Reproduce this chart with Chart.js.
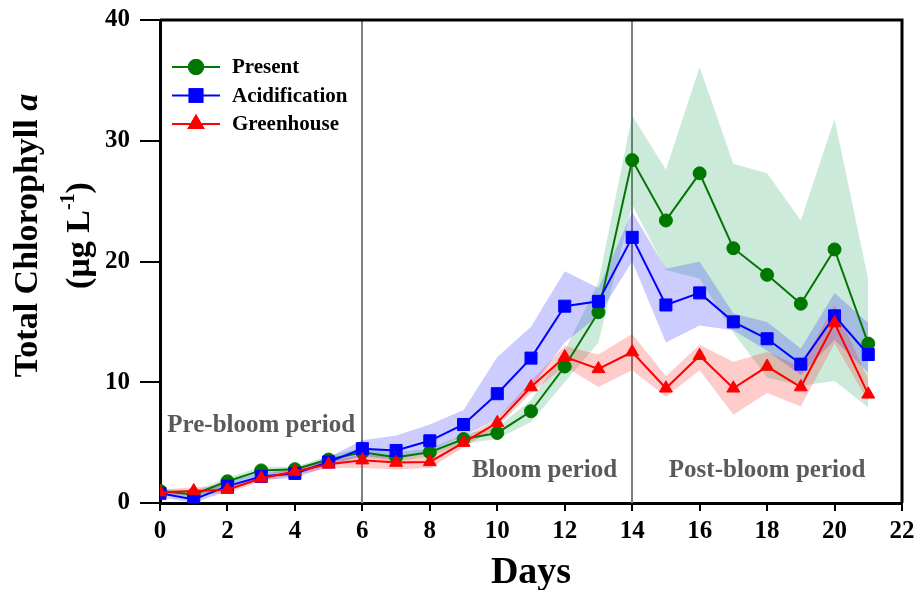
<!DOCTYPE html>
<html><head><meta charset="utf-8">
<script src="https://cdn.jsdelivr.net/npm/chart.js@4"></script>
<style>html,body{margin:0;padding:0;background:#fff;overflow:hidden}</style>
</head><body>
<canvas id="c" width="915" height="590"></canvas>
<script>
// ---------- DATA ----------
const days = [0,1,2,3,4,5,6,7,8,9,10,11,12,13,14,15,16,17,18,19,20,21];
const seriesLabels = ['Present','Acidification','Greenhouse'];

const presentMean  = [1.0,0.7,1.8,2.7,2.8,3.6,4.2,3.8,4.2,5.3,5.8,7.6,11.3,15.8,28.4,23.4,27.3,21.1,18.9,16.5,21.0,13.2];
const presentUpper = [1.2,1.0,2.1,3.0,3.0,3.9,4.6,4.2,4.5,5.7,6.3,8.5,12.6,18.3,32.1,27.6,36.1,28.1,27.3,23.4,31.8,18.5];
const presentLower = [0.8,0.4,1.5,2.4,2.6,3.3,3.8,3.4,3.9,4.9,5.3,6.7,10.0,13.3,24.7,19.3,18.6,14.1,10.4,9.7,10.1,7.9];

const acidMean  = [0.8,0.3,1.4,2.2,2.45,3.4,4.5,4.35,5.15,6.5,9.05,12.0,16.3,16.7,22.0,16.4,17.4,15.0,13.6,11.5,15.5,12.3];
const acidUpper = [1.1,0.7,1.8,2.5,2.8,3.8,5.2,5.6,6.5,7.7,12.1,14.6,19.2,17.8,24.1,19.4,20.0,15.7,15.0,12.8,17.4,14.9];
const acidLower = [0.5,0.0,1.0,1.9,2.1,3.0,3.9,3.6,4.3,5.5,7.0,9.5,13.3,15.5,20.0,13.3,14.7,14.3,12.6,10.6,13.5,10.8];

const greenMean  = [0.9,1.0,1.1,2.05,2.6,3.2,3.55,3.35,3.4,5.0,6.65,9.6,12.1,11.1,12.5,9.5,12.2,9.5,11.3,9.6,14.9,9.0];
const greenUpper = [1.1,1.3,1.4,2.3,2.9,3.5,4.0,3.9,4.0,5.4,7.0,10.1,13.0,12.3,14.0,10.5,13.1,11.7,12.5,11.3,16.4,10.2];
const greenLower = [0.7,0.7,0.8,1.8,2.3,2.9,2.9,2.8,2.9,4.6,6.3,9.1,11.3,9.6,11.0,8.8,11.0,7.3,9.1,8.0,13.2,8.4];

const xTicks = [0,2,4,6,8,10,12,14,16,18,20,22];
const yTicks = [0,10,20,30,40];
const periodBoundaries = [6,14];
const periodLabels = ['Pre-bloom period','Bloom period','Post-bloom period'];
const periodAnchors = [[3,6.4],[11.4,2.7],[18.0,2.7]]; // [day, value]

// ---------- STYLE ----------
const FONT = 'Liberation Serif, "Times New Roman", serif';
const cols = {
  present: {line:'#007800', band:'rgba(0,150,70,0.2)'},
  acid:    {line:'#0000ff', band:'rgba(0,0,255,0.2)'},
  green:   {line:'#ff0000', band:'rgba(255,0,0,0.2)'}
};
const pts = arr => days.map((d,i)=>({x:d,y:arr[i]}));

function band(lo, hi, color, ord){
  return [
    {data:pts(lo), borderWidth:0, borderColor:'rgba(0,0,0,0)', pointRadius:0, fill:false, order:ord, tension:0},
    {data:pts(hi), borderWidth:0, borderColor:'rgba(0,0,0,0)', pointRadius:0, fill:'-1', backgroundColor:color, order:ord, tension:0}
  ];
}
function series(label, arr, c, style, r, ord){
  return {label, data:pts(arr), borderColor:c, backgroundColor:c, pointBorderColor:c, pointBackgroundColor:c,
    borderWidth:2, pointStyle:style, pointRadius:r, pointBorderWidth:1, fill:false, tension:0, order:ord, isSeries:true};
}

const datasets = [
  ...band(presentLower, presentUpper, cols.present.band, 12),
  ...band(acidLower, acidUpper, cols.acid.band, 11),
  ...band(greenLower, greenUpper, cols.green.band, 10),
  series(seriesLabels[0], presentMean, cols.present.line, 'circle', 6.5, 3),
  series(seriesLabels[1], acidMean, cols.acid.line, 'rect', 8.5, 2),
  series(seriesLabels[2], greenMean, cols.green.line, 'triangle', 7.5, 1)
];

const periodPlugin = {
  id:'periods',
  beforeDatasetsDraw(chart){
    const {ctx, chartArea:a, scales:{x}} = chart;
    ctx.save();
    ctx.strokeStyle = '#808080'; ctx.lineWidth = 2;
    periodBoundaries.forEach(d=>{
      const px = Math.round(x.getPixelForValue(d));
      ctx.beginPath(); ctx.moveTo(px, a.top); ctx.lineTo(px, a.bottom); ctx.stroke();
    });
    ctx.restore();
  },
  afterDatasetsDraw(chart){
    const {ctx, scales:{x,y}} = chart;
    ctx.save();
    ctx.fillStyle = '#5a5a5a';
    ctx.font = 'bold 25px ' + FONT;
    ctx.textAlign = 'center'; ctx.textBaseline = 'middle';
    periodLabels.forEach((t,i)=>{
      ctx.fillText(t, x.getPixelForValue(periodAnchors[i][0]), y.getPixelForValue(periodAnchors[i][1]));
    });
    ctx.restore();
  }
};

const framePlugin = {
  id:'frame',
  afterDraw(chart){
    const {ctx, chartArea:a} = chart;
    ctx.save();
    ctx.strokeStyle = '#000'; ctx.lineWidth = 3;
    ctx.beginPath();
    ctx.moveTo(a.left, a.top); ctx.lineTo(a.right, a.top); ctx.lineTo(a.right, a.bottom);
    ctx.stroke();
    ctx.restore();
  }
};

const legendPlugin = {
  id:'customLegend',
  afterDraw(chart){
    const {ctx, chartArea:a} = chart;
    const ser = chart.data.datasets.filter(d=>d.isSeries);
    ctx.save();
    ser.forEach((d,i)=>{
      const yy = a.top + 47 + i*28.5;
      const x0 = a.left + 12, x1 = a.left + 60, xm = a.left + 36;
      ctx.strokeStyle = d.borderColor; ctx.lineWidth = 2;
      ctx.beginPath(); ctx.moveTo(x0, yy); ctx.lineTo(x1, yy); ctx.stroke();
      ctx.fillStyle = d.pointBackgroundColor;
      Chart.helpers.drawPoint(ctx, {pointStyle:d.pointStyle, radius:d.pointRadius+0.5, borderWidth:1, rotation:0}, xm, yy);
      ctx.fill(); ctx.stroke();
      ctx.fillStyle = '#000';
      ctx.font = 'bold 21px ' + FONT;
      ctx.textAlign = 'left'; ctx.textBaseline = 'middle';
      ctx.fillText(d.label, a.left + 72, yy + 1);
    });
    ctx.restore();
  }
};

const yTitlePlugin = {
  id:'yTitle',
  afterDraw(chart){
    const {ctx, chartArea:a} = chart;
    const cy = (a.top + a.bottom)/2 - 26;
    ctx.save();
    ctx.fillStyle = '#000';
    ctx.textBaseline = 'middle'; ctx.textAlign = 'left';
    ctx.save();
    ctx.translate(28, cy); ctx.rotate(-Math.PI/2);
    const p1 = 'Total Chlorophyll ', p2 = 'a';
    ctx.font = 'bold 34px ' + FONT; const w1 = ctx.measureText(p1).width;
    ctx.font = 'italic bold 34px ' + FONT; const w2 = ctx.measureText(p2).width;
    let sx = -(w1+w2)/2;
    ctx.font = 'bold 34px ' + FONT; ctx.fillText(p1, sx, 0);
    ctx.font = 'italic bold 34px ' + FONT; ctx.fillText(p2, sx + w1, 0);
    ctx.restore();
    ctx.save();
    ctx.translate(80, cy); ctx.rotate(-Math.PI/2);
    const q1 = '(\u03bcg L', q2 = '-1', q3 = ')';
    ctx.font = 'bold 34px ' + FONT; const v1 = ctx.measureText(q1).width, v3 = ctx.measureText(q3).width;
    ctx.font = 'bold 20px ' + FONT; const v2 = ctx.measureText(q2).width;
    sx = -(v1+v2+v3)/2;
    ctx.font = 'bold 34px ' + FONT; ctx.fillText(q1, sx, 0);
    ctx.font = 'bold 20px ' + FONT; ctx.fillText(q2, sx+v1, -11);
    ctx.font = 'bold 34px ' + FONT; ctx.fillText(q3, sx+v1+v2, 0);
    ctx.restore();
    ctx.restore();
  }
};

new Chart(document.getElementById('c'), {
  type:'line',
  data:{datasets},
  plugins:[periodPlugin, framePlugin, legendPlugin, yTitlePlugin],
  options:{
    responsive:false, animation:false, events:[],
    layout:{padding:{left:0, right:13, top:20, bottom:0}},
    plugins:{legend:{display:false}, tooltip:{enabled:false}},
    scales:{
      x:{type:'linear', min:0, max:22,
        afterBuildTicks: s => { s.ticks = xTicks.map(v=>({value:v})); },
        afterFit: s => { s.height = 87; s.paddingLeft = 0; s.paddingRight = 0; },
        grid:{display:true, drawOnChartArea:false, drawTicks:true, tickLength:8, color:'#000', lineWidth:2},
        border:{display:true, color:'#000', width:3},
        ticks:{font:{family:FONT, size:25, weight:'bold'}, color:'#000', padding:6, maxRotation:0, autoSkip:false},
        title:{display:true, text:'Days', color:'#000', padding:0, font:{family:FONT, size:38, weight:'bold', lineHeight:0.86}}
      },
      y:{type:'linear', min:0, max:40,
        afterBuildTicks: s => { s.ticks = yTicks.map(v=>({value:v})); },
        afterFit: s => { s.width = 160; s.paddingTop = 0; s.paddingBottom = 0; },
        grid:{display:true, drawOnChartArea:false, drawTicks:true, tickLength:20, color:'#000', lineWidth:2},
        border:{display:true, color:'#000', width:3},
        ticks:{font:{family:FONT, size:25, weight:'bold'}, color:'#000', padding:10, autoSkip:false},
        title:{display:false}
      }
    }
  }
});
</script>
</body></html>
